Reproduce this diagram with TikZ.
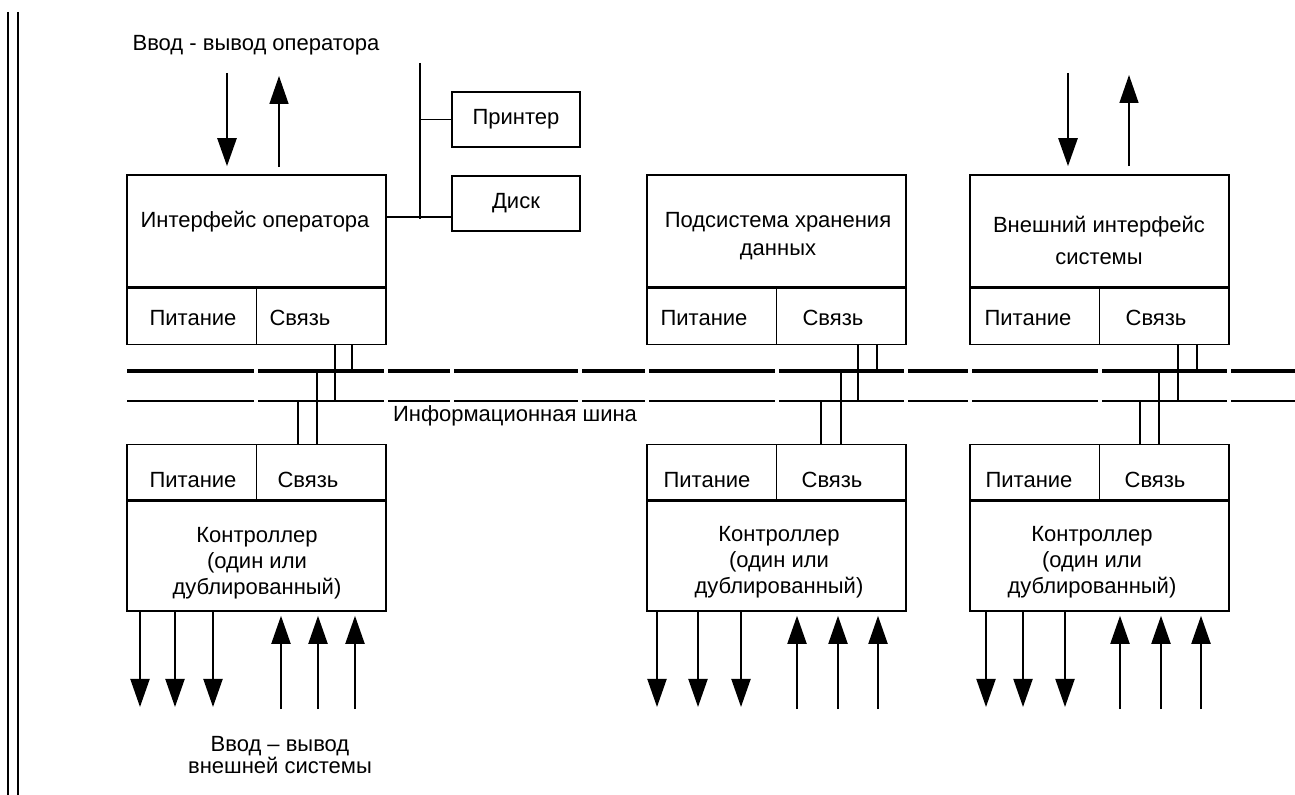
\documentclass[tikz,border=0pt]{standalone}
\usepackage{fontspec}
\setmainfont{Liberation Sans}
\usetikzlibrary{arrows.meta, positioning}
\tikzset{
  part/.style={draw, line width=0.8pt, inner sep=0pt, minimum width=129.5pt},
  cell/.style={part, minimum width=64.75pt},
  txt/.style={inner sep=0pt, align=center, font=\fontsize{11}{13}\selectfont},
  link/.style={line width=0.7pt},
  bus/.style={line width=1.6pt},
  flow/.style={-{Triangle[length=14pt, width=9.5pt]}},
}

\begin{document}
\begin{tikzpicture}[x=0.5pt, y=-0.5pt]
\useasboundingbox (0,0) rectangle (1295,795);
\draw[line width=0.8pt] (8,12) -- (8,795);
\draw[line width=0.8pt] (18,12) -- (18,795);

% upper modules
\node[part, minimum height=56pt] (A) at (256.5,231) {};
\node[cell, minimum height=28pt, anchor=north west] (Ap) at (A.south west) {};
\node[cell, minimum height=28pt, anchor=north east] (As) at (A.south east) {};
\node[part, minimum height=56pt] (B) at (776.5,231) {};
\node[cell, minimum height=28pt, anchor=north west] (Bp) at (B.south west) {};
\node[cell, minimum height=28pt, anchor=north east] (Bs) at (B.south east) {};
\node[part, minimum height=56pt] (C) at (1099.5,231) {};
\node[cell, minimum height=28pt, anchor=north west] (Cp) at (C.south west) {};
\node[cell, minimum height=28pt, anchor=north east] (Cs) at (C.south east) {};

% controllers
\node[part, minimum height=55pt] (D) at (256.5,556) {};
\node[cell, minimum height=27.5pt, anchor=south west] (Dp) at (D.north west) {};
\node[cell, minimum height=27.5pt, anchor=south east] (Ds) at (D.north east) {};
\node[part, minimum height=55pt] (E) at (776.5,556) {};
\node[cell, minimum height=27.5pt, anchor=south west] (Ep) at (E.north west) {};
\node[cell, minimum height=27.5pt, anchor=south east] (Es) at (E.north east) {};
\node[part, minimum height=55pt] (F) at (1099.5,556) {};
\node[cell, minimum height=27.5pt, anchor=south west] (Fp) at (F.north west) {};
\node[cell, minimum height=27.5pt, anchor=south east] (Fs) at (F.north east) {};

% printer and disk
\node[part, txt, minimum width=64pt, minimum height=27.5pt] (Pr) at (516,119.5) {Принтер};
\node[part, txt, minimum width=64pt, minimum height=27.5pt] (Dk) at (516,203.5) {Диск};
\coordinate (jtop) at (420,63);
\coordinate (jbot) at (420,219);
\coordinate (tap) at (420,217);
\draw[link] (jtop) -- (jbot);
\draw[link] (tap -| A.east) -- (tap -| Dk.west);
\draw[link] (Pr.west -| jtop) -- (Pr.west);

% texts
\node[txt] (opio) at (256,45) {Ввод - вывод оператора};
\node[txt] (Atx) at (255,222) {Интерфейс оператора};
\node[txt] (Btx) at (778,236) {Подсистема хранения\\[1pt]данных};
\node[txt] (Ctx) at (1099,240) {Внешний интерфейс\\[3pt]системы};
\node[txt] (Aptx) at (193,318) {Питание};
\node[txt] (Astx) at (300,318) {Связь};
\node[txt] (Bptx) at (704,318) {Питание};
\node[txt] (Bstx) at (833,318) {Связь};
\node[txt] (Cptx) at (1028,318) {Питание};
\node[txt] (Cstx) at (1156,318) {Связь};
\node[txt] (Dptx) at (193,480) {Питание};
\node[txt] (Dstx) at (308,480) {Связь};
\node[txt] (Eptx) at (707,480) {Питание};
\node[txt] (Estx) at (832,480) {Связь};
\node[txt] (Fptx) at (1029,480) {Питание};
\node[txt] (Fstx) at (1155,480) {Связь};
\node[txt] (Dtx) at (257,563) {Контроллер\\(один или\\дублированный)};
\node[txt] (Etx) at (779,562) {Контроллер\\(один или\\дублированный)};
\node[txt] (Ftx) at (1092,562) {Контроллер\\(один или\\дублированный)};
\node[txt] (bustx) at (515,416) {Информационная шина};
\node[txt] (extio) at (280,755) {Ввод – вывод\\[-2pt]внешней системы};

% information bus
\foreach \a/\b in {127/254, 258/384, 388/450, 454/578, 582/645, 649/775, 779/904, 908/968, 972/1098, 1102/1227, 1231/1295} {
  \draw[bus] (\a,371) -- (\b,371);
  \draw[bus, line width=1.2pt] (\a,401) -- (\b,401);
}
\foreach \up/\lo/\a/\b/\c/\d in {As/Ds/335/352/298/317, Bs/Es/858/877/821/841, Cs/Fs/1178/1197/1140/1159} {
  \coordinate (\up1) at (\a,401);
  \coordinate (\up2) at (\b,371);
  \coordinate (\lo1) at (\c,401);
  \coordinate (\lo2) at (\d,371);
  \draw[link] (\up.south -| \up1) -- (\up1);
  \draw[link] (\up.south -| \up2) -- (\up2);
  \draw[link] (\lo1) -- (\lo1 |- \lo.north);
  \draw[link] (\lo2) -- (\lo2 |- \lo.north);
}

% operator and system input/output
\coordinate (Ain) at (227,73);
\coordinate (Aout) at (279,76);
\draw[flow, line width=1.3pt, shorten >=4pt] (Ain) -- (Ain |- A.north);
\draw[flow, line width=0.7pt, shorten <=3.5pt] (Aout |- A.north) -- (Aout);
\coordinate (Cin) at (1068,73);
\coordinate (Cout) at (1129,75);
\draw[flow, line width=1.3pt, shorten >=4pt] (Cin) -- (Cin |- C.north);
\draw[flow, line width=0.7pt, shorten <=4pt] (Cout |- C.north) -- (Cout);

% external system input/output
\foreach \m/\x in {D/140, D/175, D/213, E/657, E/698, E/741, F/986, F/1023, F/1065} {
  \coordinate (out\x) at (\x,707);
  \draw[flow, line width=1pt] (\m.south -| out\x) -- (out\x);
}
\foreach \m/\x in {D/281, D/318, D/355, E/797, E/838, E/878, F/1120, F/1161, F/1201} {
  \coordinate (in\x) at (\x,709);
  \draw[flow, line width=1pt, shorten >=2pt] (in\x) -- (in\x |- \m.south);
}
\end{tikzpicture}
\end{document}
